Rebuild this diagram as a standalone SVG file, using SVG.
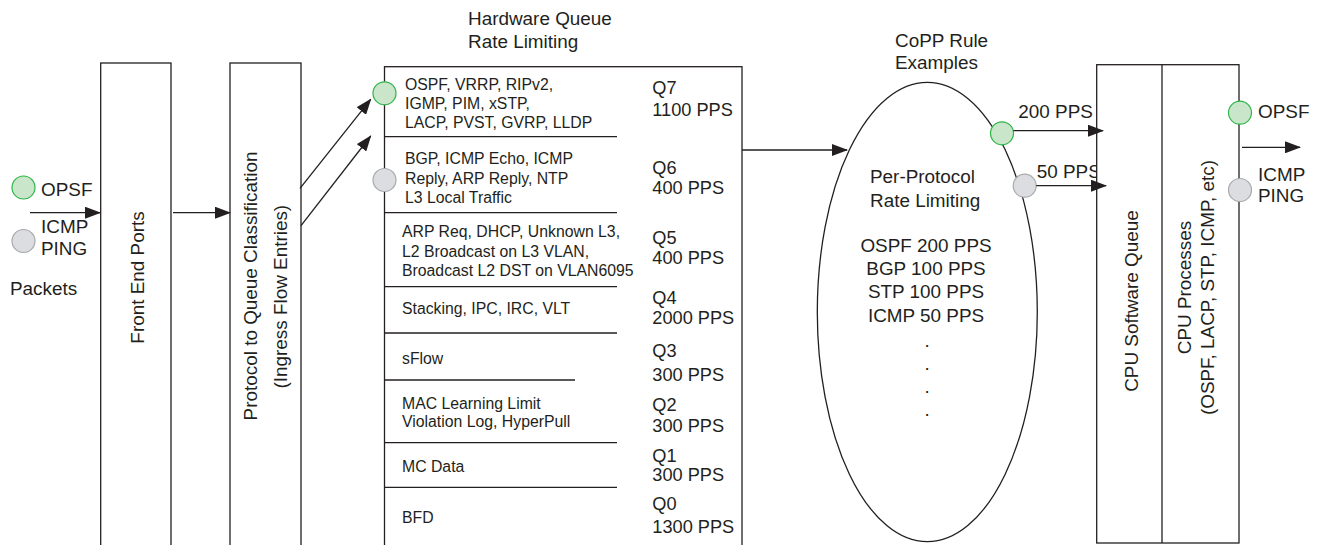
<svg xmlns="http://www.w3.org/2000/svg" width="1318" height="545" viewBox="0 0 1318 545">
<style>
text{font-family:"Liberation Sans",Arial,sans-serif;fill:#231f20}
.b{font-size:18.9px}
.q{font-size:18.2px}
.s{font-size:15.8px}
.m{text-anchor:middle}
.box{fill:#fff;stroke:#231f20;stroke-width:1.3}
.ln{fill:none;stroke:#231f20;stroke-width:1.3}
.g{fill:#c9e6ca;stroke:#2fb54a;stroke-width:1.2}
.y{fill:#dcdde1;stroke:#a7a9ac;stroke-width:1.2}
</style>
<defs>
<marker id="ah" viewBox="0 0 16 12" refX="15" refY="6" markerWidth="16" markerHeight="12" markerUnits="userSpaceOnUse" orient="auto">
<path d="M0,0 L16,6 L0,12 Z" fill="#231f20"/>
</marker>
</defs>
<rect width="1318" height="545" fill="#fff"/>

<g id="packets-in">
<circle class="g" cx="23.5" cy="187.5" r="11.5"/>
<circle class="y" cx="23.5" cy="241" r="11.5"/>
<text class="b" x="41" y="195.5">OPSF</text>
<text class="b" x="41" y="232.5">ICMP</text>
<text class="b" x="41" y="255">PING</text>
<text class="b" x="10" y="295">Packets</text>
</g>

<g id="front-end-ports">
<rect class="box" x="100.7" y="63" width="70.3" height="500"/>
<text class="b m" x="143.5" y="277.5" transform="rotate(-90 143.5 277.5)">Front End Ports</text>
</g>

<g id="protocol-classification">
<rect class="box" x="230" y="63" width="71" height="500"/>
<text class="b m" x="256.5" y="286" transform="rotate(-90 256.5 286)">Protocol to Queue Classification</text>
<text class="b m" x="287" y="296.7" transform="rotate(-90 287 296.7)">(Ingress Flow Entries)</text>
</g>

<g id="hardware-queue">
<text class="b" x="468" y="25">Hardware Queue</text>
<text class="b" x="468" y="48.3">Rate Limiting</text>
<rect class="box" x="384.5" y="66.7" width="357.5" height="500"/>
<line class="ln" x1="384.5" y1="136.7" x2="617" y2="136.7"/>
<line class="ln" x1="384.5" y1="212.7" x2="617" y2="212.7"/>
<line class="ln" x1="384.5" y1="286.7" x2="617" y2="286.7"/>
<line class="ln" x1="384.5" y1="333" x2="617" y2="333"/>
<line class="ln" x1="384.5" y1="380" x2="575" y2="380"/>
<line class="ln" x1="384.5" y1="442.7" x2="617" y2="442.7"/>
<line class="ln" x1="384.5" y1="487.3" x2="617" y2="487.3"/>
<text class="s" x="405" y="90">OSPF, VRRP, RIPv2,</text>
<text class="s" x="405" y="109">IGMP, PIM, xSTP,</text>
<text class="s" x="405" y="128">LACP, PVST, GVRP, LLDP</text>
<text class="s" x="405" y="164">BGP, ICMP Echo, ICMP</text>
<text class="s" x="405" y="184">Reply, ARP Reply, NTP</text>
<text class="s" x="405" y="203">L3 Local Traffic</text>
<text class="s" x="402" y="237.3">ARP Req, DHCP, Unknown L3,</text>
<text class="s" x="402" y="257">L2 Broadcast on L3 VLAN,</text>
<text class="s" x="402" y="276">Broadcast L2 DST on VLAN6095</text>
<text class="s" x="402" y="314">Stacking, IPC, IRC, VLT</text>
<text class="s" x="402" y="364">sFlow</text>
<text class="s" x="402" y="409.3">MAC Learning Limit</text>
<text class="s" x="402" y="426.7">Violation Log, HyperPull</text>
<text class="s" x="402" y="471.7">MC Data</text>
<text class="s" x="402" y="522.7">BFD</text>
<text class="q" x="652.3" y="94">Q7</text>
<text class="q" x="652.3" y="116">1100 PPS</text>
<text class="q" x="652.3" y="173.8">Q6</text>
<text class="q" x="652.3" y="193.5">400 PPS</text>
<text class="q" x="652.3" y="244">Q5</text>
<text class="q" x="652.3" y="263.5">400 PPS</text>
<text class="q" x="652.3" y="303.8">Q4</text>
<text class="q" x="652.3" y="323.5">2000 PPS</text>
<text class="q" x="652.3" y="356.7">Q3</text>
<text class="q" x="652.3" y="381">300 PPS</text>
<text class="q" x="652.3" y="411">Q2</text>
<text class="q" x="652.3" y="431.7">300 PPS</text>
<text class="q" x="652.3" y="461.5">Q1</text>
<text class="q" x="652.3" y="481.2">300 PPS</text>
<text class="q" x="652.3" y="510">Q0</text>
<text class="q" x="652.3" y="533.3">1300 PPS</text>
<circle class="g" cx="384.5" cy="93.3" r="11.5"/>
<circle class="y" cx="384.5" cy="180" r="11.5"/>
</g>

<g id="copp">
<text class="b" x="895" y="46.7">CoPP Rule</text>
<text class="b" x="895" y="69.3">Examples</text>
<ellipse class="ln" cx="927.3" cy="312" rx="110" ry="229.7"/>
<text class="b" x="870" y="183">Per-Protocol</text>
<text class="b" x="870" y="206.7">Rate Limiting</text>
<text class="b m" x="926" y="252.3">OSPF 200 PPS</text>
<text class="b m" x="926" y="275">BGP 100 PPS</text>
<text class="b m" x="926" y="298.3">STP 100 PPS</text>
<text class="b m" x="926" y="321.7">ICMP 50 PPS</text>
<text class="b m" x="927" y="346.5">.</text>
<text class="b m" x="927" y="369.5">.</text>
<text class="b m" x="927" y="392.5">.</text>
<text class="b m" x="927" y="415.5">.</text>
<circle class="g" cx="1002" cy="133.3" r="11.5"/>
<circle class="y" cx="1024.7" cy="185.7" r="11.5"/>
<text class="b" x="1018.3" y="118.3">200 PPS</text>
<text class="b" x="1036.7" y="178.3">50 PPS</text>
</g>

<g id="cpu">
<rect class="box" x="1096.7" y="64.7" width="142.3" height="478.3"/>
<line class="ln" x1="1162" y1="64.7" x2="1162" y2="543"/>
<text class="b m" x="1138" y="301" transform="rotate(-90 1138 301)">CPU Software Queue</text>
<text class="b m" x="1191" y="287.5" transform="rotate(-90 1191 287.5)">CPU Processes</text>
<text class="b m" x="1214" y="287.5" transform="rotate(-90 1214 287.5)">(OSPF, LACP, STP, ICMP, etc)</text>
</g>

<g id="packets-out">
<circle class="g" cx="1240" cy="112.7" r="11.5"/>
<circle class="y" cx="1240" cy="190" r="11.5"/>
<text class="b" x="1258" y="118">OPSF</text>
<text class="b" x="1258" y="180.7">ICMP</text>
<text class="b" x="1258" y="201.7">PING</text>
</g>

<g id="connectors">
<line class="ln" x1="30" y1="212.7" x2="100" y2="212.7" marker-end="url(#ah)"/>
<line class="ln" x1="173" y1="212.7" x2="230" y2="212.7" marker-end="url(#ah)"/>
<line class="ln" x1="300" y1="188.3" x2="370.7" y2="99.3" marker-end="url(#ah)"/>
<line class="ln" x1="301" y1="225.7" x2="370.7" y2="136" marker-end="url(#ah)"/>
<line class="ln" x1="742" y1="150" x2="847" y2="150" marker-end="url(#ah)"/>
<line class="ln" x1="1013.5" y1="130.7" x2="1103" y2="130.7" marker-end="url(#ah)"/>
<line class="ln" x1="1036.2" y1="185.7" x2="1106" y2="185.7" marker-end="url(#ah)"/>
<line class="ln" x1="1242" y1="147.3" x2="1300" y2="147.3" marker-end="url(#ah)"/>
</g>
</svg>
